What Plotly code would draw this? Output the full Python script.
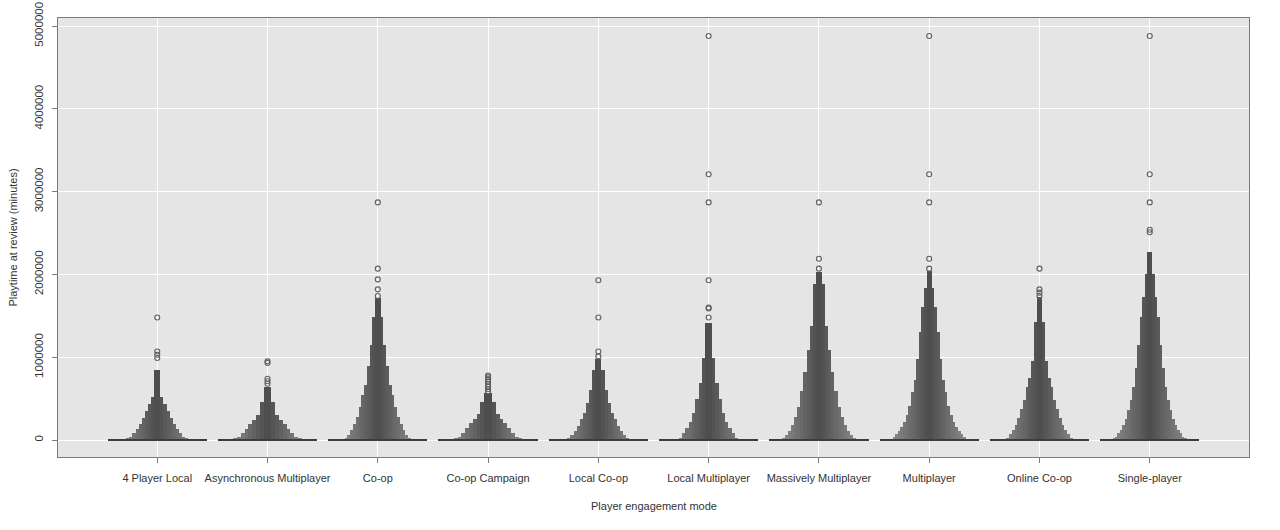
import plotly.graph_objects as go

categories = ["4 Player Local", "Asynchronous Multiplayer", "Co-op", "Co-op Campaign",
              "Local Co-op", "Local Multiplayer", "Massively Multiplayer", "Multiplayer",
              "Online Co-op", "Single-player"]

# upper letter values (minutes), from the outermost (tallest, narrowest) box inwards
lv_4player_local = [845000, 515000, 435000, 350000, 270000, 190000, 130000, 80000, 42000,
                    25000, 15000, 9000, 5500, 3000, 1500, 600]
lv_async_multi = [640000, 455000, 300000, 240000, 190000, 130000, 80000, 40000, 22000,
                  12000, 6000, 2500, 800]
lv_coop = [1710000, 1480000, 1150000, 890000, 670000, 540000, 400000, 280000, 190000,
           120000, 60000, 25000, 12000, 7000, 4000, 2000, 1000, 400]
lv_coop_campaign = [565000, 460000, 310000, 260000, 200000, 140000, 90000, 42000, 22000,
                    11000, 5500, 2500, 800]
lv_local_coop = [975000, 845000, 610000, 450000, 330000, 250000, 170000, 110000, 60000,
                 22000, 12000, 7000, 4000, 2000, 1000, 400]
lv_local_multi = [1410000, 990000, 690000, 490000, 330000, 220000, 140000, 80000, 30000,
                  15000, 8000, 4000, 2000, 1000, 400]
lv_mmo = [2025000, 1890000, 1380000, 1090000, 825000, 595000, 400000, 280000, 180000,
          110000, 60000, 20000, 9000, 4000, 1800, 600]
lv_multi = [2040000, 1840000, 1610000, 1300000, 980000, 730000, 575000, 415000, 300000,
            220000, 160000, 110000, 70000, 40000, 18000, 8000, 3500, 1500, 500]
lv_online_coop = [1730000, 1420000, 960000, 750000, 640000, 480000, 370000, 270000, 180000,
                  120000, 70000, 30000, 14000, 7000, 3500, 1800, 800, 300]
lv_single = [2270000, 2010000, 1730000, 1480000, 1150000, 870000, 640000, 480000, 360000,
             260000, 180000, 120000, 80000, 40000, 20000, 10000, 5000, 2500, 1200, 400]

out_4player_local = [1480000, 1070000, 1030000, 990000]
out_async_multi = [950000, 930000, 740000, 710000, 680000]
out_coop = [2870000, 2070000, 1940000, 1820000, 1740000]
out_coop_campaign = [780000, 760000, 735000, 705000, 675000, 645000, 615000, 585000]
out_local_coop = [1930000, 1480000, 1070000, 1010000]
out_local_multi = [4880000, 3210000, 2870000, 1930000, 1600000, 1590000, 1480000]
out_mmo = [2870000, 2190000, 2070000]
out_multi = [4880000, 3210000, 2870000, 2190000, 2070000]
out_online_coop = [2070000, 1820000, 1780000, 1740000]
out_single = [4880000, 3210000, 2870000, 2540000, 2510000]

medians = [0, 0, 0, 0, 0, 0, 0, 0, 0, 0]

y_tick_values = [0, 1000000, 2000000, 3000000, 4000000, 5000000]
y_tick_labels = ["0", "1000000", "2000000", "3000000", "4000000", "5000000"]

letter_values = [lv_4player_local, lv_async_multi, lv_coop, lv_coop_campaign, lv_local_coop,
                 lv_local_multi, lv_mmo, lv_multi, lv_online_coop, lv_single]
outliers = [out_4player_local, out_async_multi, out_coop, out_coop_campaign, out_local_coop,
            out_local_multi, out_mmo, out_multi, out_online_coop, out_single]

MAX_W = 0.9
DARK = (78, 78, 78)
LIGHT = (158, 158, 158)


def shade(t):
    r = [round(DARK[i] + (LIGHT[i] - DARK[i]) * t) for i in range(3)]
    return "rgb(%d,%d,%d)" % tuple(r)


fig = go.Figure()

for i, (cat, lv) in enumerate(zip(categories, letter_values)):
    K = len(lv)
    widths = [MAX_W * (k + 1) / K for k in range(K)]
    colors = [shade(k / max(K - 1, 1)) for k in range(K)]
    order = list(range(K))[::-1]
    fig.add_trace(go.Bar(
        x=[i] * K,
        y=[lv[k] for k in order],
        width=[widths[k] for k in order],
        marker=dict(color=[colors[k] for k in order], line=dict(width=0)),
        showlegend=False, hoverinfo="y", name=cat,
    ))

# median lines
fig.add_trace(go.Bar(
    x=list(range(len(categories))),
    y=[18000] * len(categories),
    base=[m - 9000 for m in medians],
    width=[MAX_W] * len(categories),
    marker=dict(color="#3c3c3c", line=dict(width=0)),
    showlegend=False, hoverinfo="skip",
))

# outliers
ox, oy = [], []
for i, outs in enumerate(outliers):
    ox += [i] * len(outs)
    oy += outs
fig.add_trace(go.Scatter(
    x=ox, y=oy, mode="markers",
    marker=dict(symbol="circle-open", size=5, color="#5f5f5f", line=dict(width=1.1)),
    showlegend=False,
))

font_family = "Liberation Sans, Arial, sans-serif"

fig.update_layout(
    width=1280, height=530,
    margin=dict(l=58, r=31, t=18, b=73, autoexpand=False),
    barmode="overlay", bargap=0,
    plot_bgcolor="#e5e5e5", paper_bgcolor="white",
    font=dict(family=font_family, size=11, color="#333333"),
    xaxis=dict(
        range=[-0.9, 9.9], automargin=False,
        tickvals=list(range(len(categories))), ticktext=categories,
        showgrid=True, gridcolor="white", gridwidth=1,
        zeroline=False,
        showline=True, mirror=True, linecolor="#7a7a7a", linewidth=1,
        ticks="outside", ticklen=5, tickcolor="#7a7a7a",
        ticklabelstandoff=6,
        tickfont=dict(size=11, color="#333333"),
    ),
    yaxis=dict(
        range=[-205000, 5097000], automargin=False,
        tickvals=y_tick_values, ticktext=y_tick_labels,
        tickangle=-90, ticklabeloverflow="allow",
        showgrid=True, gridcolor="white", gridwidth=1,
        zeroline=False,
        showline=True, mirror=True, linecolor="#7a7a7a", linewidth=1,
        ticks="outside", ticklen=5, tickcolor="#7a7a7a",
        ticklabelstandoff=4,
        tickfont=dict(size=11.5, color="#333333"),
    ),
    annotations=[
        dict(text="Player engagement mode", xref="paper", yref="paper",
             x=0.5, y=-0.1116, xanchor="center", yanchor="middle", showarrow=False,
             font=dict(size=11, color="#333333")),
        dict(text="Playtime at review (minutes)", xref="paper", yref="paper",
             x=-0.0386, y=0.5, xanchor="center", yanchor="middle", textangle=-90,
             showarrow=False, font=dict(size=11, color="#333333")),
    ],
)

fig.write_html("out.html",
               config={"displayModeBar": False},
               post_script="document.body.style.margin='0';document.body.style.overflow='hidden';")
